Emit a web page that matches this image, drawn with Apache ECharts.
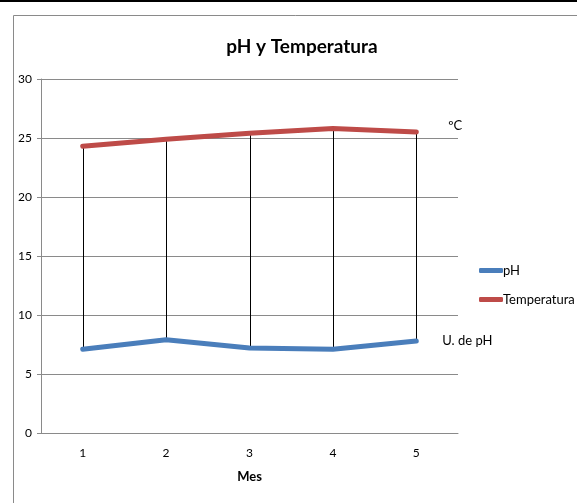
<!DOCTYPE html>
<html>
<head>
<meta charset="utf-8">
<script src="https://cdn.jsdelivr.net/npm/echarts@6/dist/echarts.min.js"></script>
<style>
html, body { margin: 0; padding: 0; background: #fff; }
#chart { width: 577px; height: 503px; }
</style>
</head>
<body>
<div id="chart"></div>
<script>
var meses = ['1', '2', '3', '4', '5'];
var ph = [7.1, 7.9, 7.2, 7.1, 7.8];
var temperatura = [24.3, 24.9, 25.4, 25.8, 25.5];
var yTicks = [0, 5, 10, 15, 20, 25, 30];

var font = "Lato, 'Liberation Sans', sans-serif";
var chart = echarts.init(document.getElementById('chart'));

// lineas verticales entre temperatura y pH (como en Excel)
var dropData = meses.map(function (m, i) { return [i, temperatura[i], ph[i]]; });

var option = {
    animation: false,
    textStyle: { fontFamily: font },
    title: {
        text: 'pH y Temperatura',
        left: 297,
        textAlign: 'center',
        top: 32,
        textStyle: { fontFamily: font, fontSize: 19, fontWeight: 'bold', color: '#000' }
    },
    graphic: [
        { type: 'rect', shape: { x: 0, y: 0, width: 577, height: 2 }, style: { fill: '#000' }, silent: true },
        { type: 'rect', shape: { x: 13.5, y: 15.5, width: 600, height: 520 }, style: { fill: 'none', stroke: '#8a8a8a', lineWidth: 1 }, silent: true }
    ],
    legend: {
        orient: 'vertical',
        left: 474,
        top: 259,
        itemWidth: 24,
        itemHeight: 5,
        itemGap: 16,
        icon: 'roundRect',
        data: ['pH', 'Temperatura'],
        textStyle: { fontFamily: font, fontSize: 13, color: '#000', padding: [0, 0, 0, -5] }
    },
    grid: { left: 41, right: 119, top: 79, bottom: 70 },
    xAxis: {
        type: 'category',
        data: meses,
        boundaryGap: true,
        name: 'Mes',
        nameLocation: 'middle',
        nameGap: 37,
        nameTextStyle: { fontFamily: font, fontSize: 13, fontWeight: 'bold', color: '#000' },
        axisLine: { lineStyle: { color: '#8a8a8a', width: 1 } },
        axisTick: { show: false },
        axisLabel: { fontFamily: font, fontSize: 12, color: '#000', margin: 14 }
    },
    yAxis: {
        type: 'value',
        min: yTicks[0],
        max: yTicks[yTicks.length - 1],
        interval: 5,
        axisLine: { show: true, lineStyle: { color: '#8a8a8a', width: 1 } },
        axisTick: { show: true, length: 4, lineStyle: { color: '#8a8a8a' } },
        axisLabel: { fontFamily: font, fontSize: 12, color: '#000', margin: 9 },
        splitLine: { lineStyle: { color: '#8a8a8a', width: 1 } }
    },
    series: [
        {
            type: 'custom',
            name: 'drop',
            silent: true,
            z: 1,
            data: dropData,
            renderItem: function (params, api) {
                var a = api.coord([api.value(0), api.value(1)]);
                var b = api.coord([api.value(0), api.value(2)]);
                return {
                    type: 'line',
                    shape: { x1: Math.round(a[0]) + 0.5, y1: a[1], x2: Math.round(b[0]) + 0.5, y2: b[1] },
                    style: { stroke: '#000', lineWidth: 1 }
                };
            }
        },
        {
            name: 'pH',
            type: 'line',
            data: ph,
            z: 3,
            symbol: 'none',
            lineStyle: { color: '#4a7ebb', width: 5, cap: 'round', join: 'round' },
            itemStyle: { color: '#4a7ebb' },
            endLabel: {
                show: true,
                formatter: 'U. de pH',
                offset: [18, 0],
                fontFamily: font,
                fontSize: 13,
                color: '#000'
            }
        },
        {
            name: 'Temperatura',
            type: 'line',
            data: temperatura,
            z: 3,
            symbol: 'none',
            lineStyle: { color: '#be4b48', width: 5, cap: 'round', join: 'round' },
            itemStyle: { color: '#be4b48' },
            endLabel: {
                show: true,
                formatter: 'ºC',
                offset: [24, -6],
                fontFamily: font,
                fontSize: 13,
                color: '#000'
            }
        }
    ]
};
chart.setOption(option);
</script>
</body>
</html>
